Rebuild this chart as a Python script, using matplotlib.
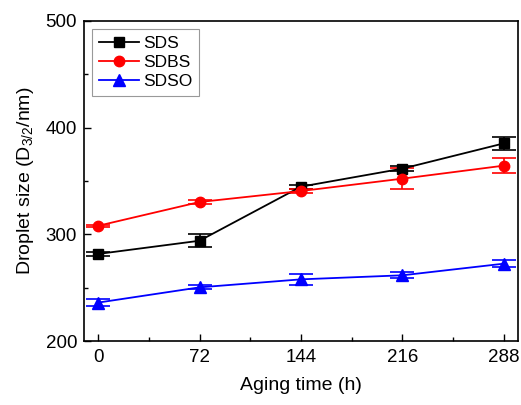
import matplotlib
matplotlib.use("Agg")
import matplotlib.pyplot as plt
from matplotlib.ticker import MultipleLocator
from matplotlib.lines import Line2D

plt.rcParams['font.family'] = ['Liberation Sans', 'DejaVu Sans']
plt.rcParams['mathtext.fontset'] = 'custom'
plt.rcParams['mathtext.rm'] = 'Liberation Sans'
plt.rcParams['mathtext.it'] = 'Liberation Sans'

time_h = [0, 72, 144, 216, 288]
sds = [281.6, 294.0, 344.7, 361.6, 385.3]
sds_err = [1.5, 6.3, 2.0, 2.0, 6.3]
sdbs = [308.0, 330.3, 340.6, 352.2, 364.4]
sdbs_err = [1.0, 2.0, 2.0, 9.7, 6.7]
sdso = [236.0, 250.3, 257.8, 261.6, 272.5]
sdso_err = [3.0, 2.0, 5.3, 3.0, 3.0]

fig = plt.figure(figsize=(5.21, 4.05), dpi=100)
ax = fig.add_axes([84/521, 1-341/405, (518-84)/521, (341-21)/405])

series = [
    ("SDS", sds, sds_err, "black", "s", 6.5),
    ("SDBS", sdbs, sdbs_err, "red", "o", 7.5),
    ("SDSO", sdso, sdso_err, "blue", "^", 8),
]
handles = []
for name, vals, errs, col, mk, ms in series:
    ax.errorbar(time_h, vals, yerr=errs, color=col, marker=mk, markersize=ms,
                linewidth=1.3, capsize=8.5, capthick=1.2, elinewidth=1.2)
    handles.append(Line2D([], [], color=col, marker=mk, markersize=ms,
                          linewidth=1.3, label=name))

ax.set_xlim(-10, 298)
ax.set_ylim(200, 500)
ax.set_xticks(time_h)
ax.xaxis.set_minor_locator(MultipleLocator(36))
ax.yaxis.set_major_locator(MultipleLocator(100))
ax.yaxis.set_minor_locator(MultipleLocator(50))
ax.tick_params(which='both', direction='in', labelsize=13.5, width=1)
ax.tick_params(axis='x', pad=6)
ax.tick_params(axis='y', pad=5)
ax.tick_params(which='major', length=5)
ax.tick_params(which='minor', length=3)
for s in ax.spines.values():
    s.set_linewidth(1.2)

ax.set_xlabel("Aging time (h)", fontsize=14, labelpad=8)
ax.set_ylabel("Droplet size (D$_{3/2}$/nm)", fontsize=14, labelpad=7)

leg = ax.legend(handles=handles, loc='upper left', fontsize=12.5, frameon=True,
                fancybox=False, edgecolor='gray', borderaxespad=0.45,
                handlelength=2.3, handletextpad=0.25, labelspacing=0.22,
                borderpad=0.4)
leg.get_frame().set_linewidth(0.8)

fig.savefig("out.png", dpi=100)
